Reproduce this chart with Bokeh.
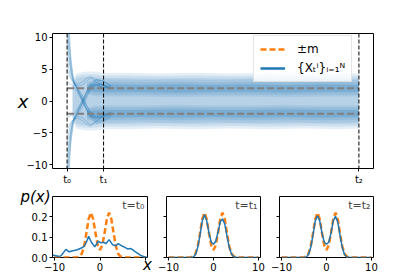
from bokeh.plotting import figure
from bokeh.models import Span, Label, Legend, LegendItem, FixedTicker, Range1d
from bokeh.layouts import column, row
from bokeh.embed import file_html
from bokeh.resources import INLINE

BLUE = "#1f77b4"
ORANGE = "#ff7f0e"
FONT = "DejaVu Sans"
NAN = float("nan")

# ---------------- data: top panel ----------------
T_MARKS = [0, 1, 8]
T_LABELS = ["t₀", "t₁", "t₂"]
M_VALUE = 2.0
Y_TICKS = [-10, -5, 0, 5, 10]
Y_LABELS = ["−10", "−5", "0", "5", "10"]

# early trajectories (time knots, values)
FAN_T = [0.0, 0.05, 0.1, 0.15, 0.2, 0.3, 0.43, 0.55, 0.65, 0.8, 1.0, 1.2]
TRAJ = [
    [20, 12, 7.0, 4.5, 3.0, 1.6, 0.0, -1.5, -2.4, -2.6, -2.2, -2.0],
    [16, 10, 6.2, 4.0, 2.8, 1.4, -0.1, -1.6, -2.5, -2.8, -2.3, -1.8],
    [13, 8.5, 5.5, 3.6, 2.6, 1.7, 0.2, -1.3, -2.2, -2.4, -1.9, -2.2],
    [11, 7.5, 5.0, 3.5, 2.7, 2.0, 0.8, -0.8, -1.8, -2.5, -2.6, -2.1],
    [9, 6.5, 4.5, 3.3, 2.6, 2.3, 2.5, 3.2, 3.6, 3.0, 2.4, 2.0],
    [7, 5.0, 3.8, 3.2, 2.9, 1.8, 0.4, -0.9, -2.0, -3.2, -3.0, -2.2],
    [5, 4.2, 3.5, 3.0, 2.7, 2.6, 3.0, 3.6, 3.8, 3.3, 2.5, 1.8],
    [3, 2.8, 2.6, 2.4, 2.1, 1.2, -0.2, -1.5, -2.6, -3.5, -3.2, -2.5],
    [-19, -11.5, -6.8, -4.4, -3.0, -1.5, 0.1, 1.6, 2.5, 2.6, 2.1, 2.0],
    [-15, -9.6, -6.0, -3.9, -2.7, -1.3, 0.0, 1.5, 2.4, 2.9, 2.4, 1.9],
    [-12.5, -8.2, -5.3, -3.5, -2.5, -1.8, -0.3, 1.2, 2.1, 2.5, 2.0, 2.3],
    [-10.5, -7.2, -4.8, -3.4, -2.8, -2.1, -0.9, 0.7, 1.9, 2.6, 2.5, 2.0],
    [-8.5, -6.2, -4.4, -3.2, -2.7, -2.4, -2.6, -3.3, -3.7, -3.1, -2.3, -1.9],
    [-6.5, -4.8, -3.7, -3.1, -2.8, -1.7, -0.3, 1.0, 2.1, 3.3, 3.1, 2.3],
    [-4.5, -4.0, -3.4, -3.0, -2.8, -2.7, -3.1, -3.7, -3.9, -3.2, -2.4, -1.7],
    [-2.5, -2.4, -2.3, -2.2, -2.0, -1.1, 0.3, 1.6, 2.7, 3.4, 3.1, 2.4],
]

# envelope of the ensemble after the transient (outer -> inner, symmetric about 0)
BAND_T = [0.15, 0.25, 0.4, 0.55, 0.7, 0.85, 1.0, 1.5, 2.5, 3.5, 4.5, 5.5, 6.5, 7.5, 8.0]
BAND_OUTER = [3.0, 4.3, 4.5, 4.6, 4.6, 4.5, 4.4, 4.4, 4.3, 4.4, 4.3, 4.4, 4.3, 4.4, 4.3]
BAND_MID = [2.7, 3.9, 4.1, 4.2, 4.2, 4.1, 4.0, 4.0, 3.9, 4.0, 3.9, 4.0, 3.9, 4.0, 3.9]
BAND_INNER = [2.4, 3.5, 3.7, 3.8, 3.8, 3.7, 3.6, 3.6, 3.5, 3.6, 3.5, 3.6, 3.5, 3.6, 3.5]
# denser zones around +-m
DARK_T = [0.55, 0.8, 1.0, 2.0, 3.0, 4.0, 5.0, 6.0, 7.0, 8.0]
DARK1_LO = [1.0, 0.7, 0.7, 0.7, 0.6, 0.7, 0.7, 0.6, 0.7, 0.7]
DARK1_HI = [3.0, 3.4, 3.4, 3.3, 3.4, 3.3, 3.4, 3.3, 3.4, 3.3]
DARK2_LO = [1.3, 1.0, 1.0, 1.0, 0.9, 1.0, 1.0, 0.9, 1.0, 1.0]
DARK2_HI = [2.8, 3.0, 3.0, 2.9, 3.0, 2.9, 3.0, 2.9, 3.0, 2.9]
DARK3_LO = [1.6, 1.4, 1.4, 1.4, 1.3, 1.4, 1.4, 1.3, 1.4, 1.4]
DARK3_HI = [2.5, 2.6, 2.6, 2.5, 2.6, 2.5, 2.6, 2.5, 2.6, 2.5]

# ---------------- data: bottom panels ----------------
GRID_X = [-10, -9.5, -9, -8.5, -8, -7.5, -7, -6.5, -6, -5.5, -5, -4.5, -4, -3.5,
          -3, -2.5, -2, -1.5, -1, -0.5, 0, 0.5, 1, 1.5, 2, 2.5, 3, 3.5, 4, 4.5,
          5, 5.5, 6, 6.5, 7, 7.5, 8, 8.5, 9, 9.5, 10]
TARGET_P = [0, 0, 0, 0, 0, 0, 0, 0, 0, 0, 0.001, 0.005, 0.019, 0.055, 0.119, 0.189,
            0.22, 0.189, 0.12, 0.06, 0.037, 0.06, 0.12, 0.189, 0.22, 0.189, 0.119,
            0.055, 0.019, 0.005, 0.001, 0, 0, 0, 0, 0, 0, 0, 0, 0, 0]
P_T1 = [0, 0, 0, 0, 0, 0, 0, 0, 0, 0, 0.001, 0.003, 0.015, 0.05, 0.11, 0.18, 0.21,
        0.18, 0.12, 0.075, 0.065, 0.08, 0.125, 0.175, 0.19, 0.165, 0.105, 0.05,
        0.017, 0.004, 0.001, 0, 0, 0, 0, 0, 0, 0, 0, 0, 0]
P_T2 = [0, 0, 0, 0, 0, 0, 0, 0, 0, 0, 0.001, 0.003, 0.015, 0.05, 0.11, 0.18, 0.205,
        0.18, 0.12, 0.075, 0.065, 0.075, 0.12, 0.18, 0.203, 0.175, 0.11, 0.05,
        0.015, 0.003, 0.001, 0, 0, 0, 0, 0, 0, 0, 0, 0, 0]
X_T0 = [-10.4, -10, -9.2, -8.6, -8, -7.5, -6.8, -6.2, -5.7, -5, -4.6, -4, -3.5, -3,
        -2.5, -1.9, -1.15, -0.4, 0.2, 0.75, 1.3, 2.0, 2.75, 3.5, 4.0, 4.95, 5.5,
        6.05, 6.8, 7.4, 7.9, 8.95, 10.0, 10.4]
P_T0 = [0.012, 0.01, 0.006, 0.008, 0.025, 0.04, 0.028, 0.032, 0.034, 0.038, 0.042,
        0.048, 0.055, 0.075, 0.104, 0.075, 0.052, 0.08, 0.072, 0.075, 0.068, 0.088,
        0.063, 0.058, 0.068, 0.055, 0.05, 0.042, 0.044, 0.035, 0.026, 0.01, 0.002, 0.0]
PANEL_TITLES = ["t=t₀", "t=t₁", "t=t₂"]
XB_TICKS = [-10, 0, 10]
XB_LABELS = ["−10", "0", "10"]
YB_TICKS = [0, 0.1, 0.2]
YB_LABELS = ["0.0", "0.1", "0.2"]


def set_if(obj, name, val):
    if name in obj.properties():
        setattr(obj, name, val)


def style(fig):
    fig.grid.visible = False
    fig.outline_line_color = "black"
    fig.outline_line_width = 1
    fig.background_fill_color = "white"
    fig.border_fill_color = "white"
    for ax in fig.axis:
        ax.axis_line_color = None
        ax.major_tick_line_color = "black"
        ax.major_tick_out = 3
        ax.major_tick_in = 0
        ax.minor_tick_line_color = None
        ax.major_label_text_font = FONT
        ax.major_label_text_font_size = "10px"
        ax.major_label_text_color = "black"
        ax.major_label_standoff = 2
        ax.axis_label_text_font = FONT
        ax.axis_label_text_font_style = "italic"
        ax.axis_label_text_color = "black"


# ---------------- top panel ----------------
top = figure(frame_width=321, frame_height=135, x_range=Range1d(-0.4, 8.4),
             y_range=Range1d(-10.55, 10.55), output_backend="svg",
             toolbar_location=None, min_border_left=52, min_border_right=30,
             min_border_top=33, min_border_bottom=15)
style(top)

neg = lambda arr: [-v for v in arr]
for arr in (BAND_OUTER, BAND_MID, BAND_INNER):
    top.varea(x=BAND_T, y1=neg(arr), y2=arr, fill_color=BLUE, fill_alpha=0.12)
for sgn in (1, -1):
    for lo, hi, a in ((DARK1_LO, DARK1_HI, 0.1), (DARK2_LO, DARK2_HI, 0.15),
                      (DARK3_LO, DARK3_HI, 0.2)):
        top.varea(x=DARK_T, y1=[sgn * v for v in lo], y2=[sgn * v for v in hi],
                  fill_color=BLUE, fill_alpha=a)
top.multi_line(xs=[FAN_T] * len(TRAJ), ys=TRAJ, line_color=BLUE, line_alpha=0.3, line_width=1)

for sgn in (1, -1):
    top.line(x=[T_MARKS[0], T_MARKS[-1]], y=[sgn * M_VALUE] * 2, line_color="gray",
             line_dash="7 3", line_width=2)
for t in T_MARKS:
    top.add_layout(Span(location=t, dimension="height", line_color="black",
                        line_dash="4 2", line_width=1))

top.xaxis.ticker = FixedTicker(ticks=T_MARKS)
top.xaxis.major_label_overrides = dict(zip(T_MARKS, T_LABELS))
top.yaxis.ticker = FixedTicker(ticks=Y_TICKS)
top.yaxis.major_label_overrides = dict(zip(Y_TICKS, Y_LABELS))
yax = top.yaxis[0]
yax.axis_label = "x"
yax.axis_label_text_font_size = "18px"
yax.axis_label_standoff = -5
set_if(yax, "axis_label_orientation", "horizontal")

# legend proxies (no visible data)
r_or = top.line(x=[NAN], y=[NAN], line_color=ORANGE, line_dash="6 3", line_width=2.5)
r_bl = top.line(x=[NAN], y=[NAN], line_color=BLUE, line_width=2.5)
legend = Legend(items=[LegendItem(label="±m", renderers=[r_or]),
                       LegendItem(label="{Xₜⁱ}ᵢ₌₁ᴺ", renderers=[r_bl])],
                location=(201, 86), label_text_font=FONT, label_text_font_size="12px",
                label_text_color="black",
                glyph_width=25, glyph_height=14, label_standoff=12, padding=6,
                spacing=5, margin=0, border_line_color="#cccccc",
                background_fill_alpha=0.8)
top.add_layout(legend)

# ---------------- bottom panels ----------------
panels = []
curves = [(X_T0, P_T0), (GRID_X, P_T1), (GRID_X, P_T2)]
for i, (cx, cy) in enumerate(curves):
    fig = figure(frame_width=95 if i == 0 else 94, frame_height=61,
                 x_range=Range1d(-10.45, 10.45), y_range=Range1d(0, 0.3),
                 output_backend="svg", toolbar_location=None,
                 min_border_left=52 if i == 0 else 10, min_border_right=9,
                 min_border_top=9, min_border_bottom=22)
    style(fig)
    fig.line(x=GRID_X, y=TARGET_P, line_color=ORANGE, line_dash="6 3", line_width=2.5)
    fig.line(x=cx, y=cy, line_color=BLUE, line_width=1.5)
    fig.xaxis.ticker = FixedTicker(ticks=XB_TICKS)
    labels = list(XB_LABELS)
    if i == 0:
        labels[-1] = ""
    fig.xaxis.major_label_overrides = dict(zip(XB_TICKS, labels))
    fig.yaxis.ticker = FixedTicker(ticks=YB_TICKS)
    fig.yaxis.major_label_overrides = dict(zip(YB_TICKS, YB_LABELS if i == 0 else [""] * 3))
    fig.add_layout(Label(x=10.45, y=0.3, x_offset=-3, y_offset=-2, text=PANEL_TITLES[i],
                         text_font=FONT, text_font_size="11px",
                         text_align="right", text_baseline="top"))
    if i == 0:
        ya = fig.yaxis[0]
        ya.axis_label = "p(x)"
        ya.axis_label_text_font_size = "15px"
        ya.axis_label_standoff = -22
        set_if(ya, "axis_label_orientation", "horizontal")
        set_if(ya, "axis_label_align", "end")
        xa = fig.xaxis[0]
        xa.axis_label = "x"
        xa.axis_label_text_font_size = "15px"
        xa.axis_label_standoff = -18
        set_if(xa, "axis_label_align", "end")
    panels.append(fig)

layout = column(top, row(*panels))
open("out.html", "w").write(file_html(layout, INLINE))
